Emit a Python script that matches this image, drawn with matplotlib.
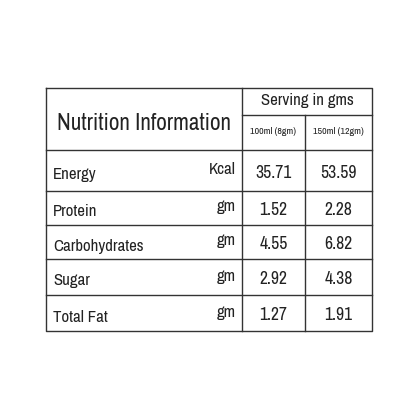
import matplotlib
matplotlib.use("Agg")
import matplotlib.pyplot as plt
from matplotlib import font_manager as fm

names = sorted({f.name for f in fm.fontManager.ttflist})
cond = [n for n in names if "Condensed" in n or "Narrow" in n]
fam = cond[0] if cond else "Liberation Sans"
scale = 1.15 if cond else 1.0

title = "Nutrition Information"
serving = "Serving in gms"
cols = ["100ml (8gm)", "150ml (12gm)"]
nutrients = ["Energy", "Protein", "Carbohydrates", "Sugar", "Total Fat"]
units = ["Kcal", "gm", "gm", "gm", "gm"]
v100 = ["35.71", "1.52", "4.55", "2.92", "1.27"]
v150 = ["53.59", "2.28", "6.82", "4.38", "1.91"]

fig = plt.figure(figsize=(4.16, 4.16), dpi=100)
ax = fig.add_axes([0, 0, 1, 1])
ax.set_xlim(0, 416); ax.set_ylim(416, 0); ax.axis("off")
c = "#333333"
L, R, T, B = 46, 372, 88, 331
x1, x2 = 242, 305
yh, ysub = 150, 115
rows = [150, 191, 225, 259, 295, 331]
lw = 1.0
ax.plot([L, R, R, L, L], [T, T, B, B, T], color=c, lw=lw)
ax.plot([x1, x1], [T, B], color=c, lw=lw)
ax.plot([x2, x2], [ysub, B], color=c, lw=lw)
ax.plot([x1, R], [ysub, ysub], color=c, lw=lw)
for y in rows[1:-1]:
    ax.plot([L, R], [y, y], color=c, lw=lw)
ax.plot([L, R], [yh, yh], color=c, lw=lw)

kw = dict(family=fam, color="#222222")
ax.text((L + x1) / 2, 124, title, ha="center", va="center", fontsize=14.5 * scale, **kw)
ax.text((x1 + R) / 2, 101, serving, ha="center", va="center", fontsize=10.5 * scale, **kw)
ax.text((x1 + x2) / 2, 132, cols[0], ha="center", va="center", fontsize=6.2 * scale, **kw)
ax.text((x2 + R) / 2, 132, cols[1], ha="center", va="center", fontsize=6.2 * scale, **kw)
for i, (n, u, a, b) in enumerate(zip(nutrients, units, v100, v150)):
    yc = (rows[i] + rows[i + 1]) / 2 + 2
    ax.text(53, yc + 2, n, ha="left", va="center", fontsize=10.5 * scale, **kw)
    ax.text(236, yc - 3, u, ha="right", va="center", fontsize=10.5 * scale, **kw)
    ax.text((x1 + x2) / 2, yc, a, ha="center", va="center", fontsize=11 * scale, **kw)
    ax.text((x2 + R) / 2, yc, b, ha="center", va="center", fontsize=11 * scale, **kw)
fig.savefig("out.png", dpi=100, facecolor="white")
